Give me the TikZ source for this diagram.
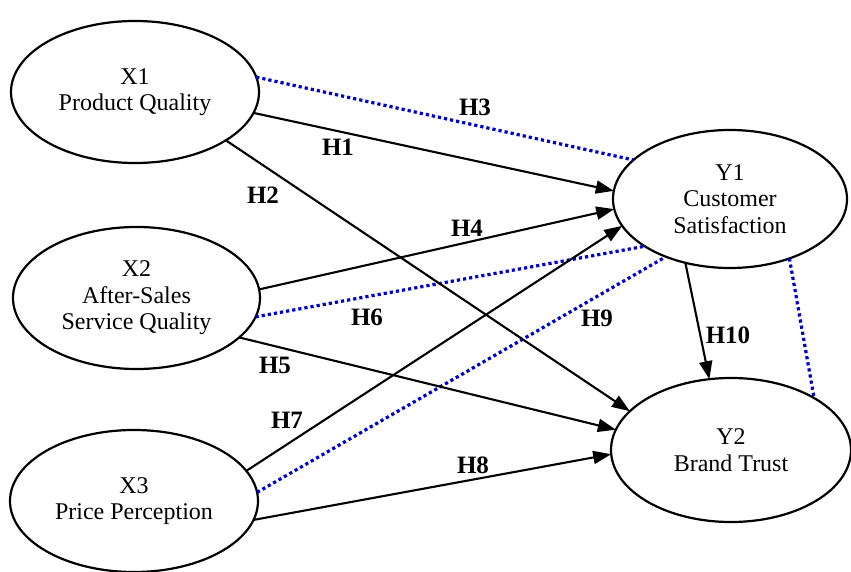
\documentclass[tikz,border=0pt]{standalone}
\usepackage{fontspec}
\setmainfont{Liberation Serif}
\usetikzlibrary{arrows.meta,shapes.geometric}
\definecolor{dotblue}{RGB}{0,0,204}
\begin{document}
\begin{tikzpicture}[x=1pt,y=-1pt,
  lat/.style={ellipse,draw,line width=2.2pt,inner sep=0pt,outer sep=0pt,align=center,font=\fontsize{24}{26.5}\selectfont},
  hyp/.style={line width=2.1pt,-{Triangle[length=18pt,width=13pt]}},
  cov/.style={dotblue,line width=3.2pt,dash pattern=on 3.2pt off 3pt},
  hl/.style={font=\fontsize{25}{25}\selectfont\bfseries,inner sep=0pt}]
\useasboundingbox (0,0) rectangle (851,572);
\node[lat,minimum width=248pt,minimum height=142pt] (X1) at (135,92) {X1\\Product Quality};
\node[lat,minimum width=247pt,minimum height=142pt] (X2) at (136.5,298) {X2\\After-Sales\\Service Quality};
\node[lat,minimum width=248pt,minimum height=142pt] (X3) at (134,501) {X3\\Price Perception};
\node[lat,minimum width=234pt,minimum height=138pt] (Y1) at (730,199) {Y1\\Customer\\Satisfaction};
\node[lat,minimum width=240pt,minimum height=144pt] (Y2) at (731,450) {Y2\\Brand Trust};
% dotted (blue) links
\draw[cov] (X1.7) -- (Y1.158);
\draw[cov] (X2.-9) -- (Y1.209);
\draw[cov] (X3.4) -- (Y1.222);
\draw[cov] (Y1.-45) -- (Y2.32);
% arrows
\draw[hyp] (X1.-10) -- (Y1.176);
\draw[hyp] (X1.-28) -- (Y2.159);
\draw[hyp] (X2.4) -- (Y1.185);
\draw[hyp] (X2.-21) -- (Y2.170);
\draw[hyp] (X3.15) -- (Y1.194);
\draw[hyp] (X3.-9) -- (Y2.182);
\draw[hyp] (Y1.235) -- (Y2.107);
% labels
\node[hl] (h1) at (338,147) {H1};
\node[hl] (h2) at (263,195) {H2};
\node[hl] (h3) at (475,107) {H3};
\node[hl] (h4) at (467,228) {H4};
\node[hl] (h5) at (275,365) {H5};
\node[hl] (h6) at (367,317) {H6};
\node[hl] (h7) at (287,420) {H7};
\node[hl] (h8) at (473,465) {H8};
\node[hl] (h9) at (597,318) {H9};
\node[hl] (h10) at (728,335) {H10};
\end{tikzpicture}
\end{document}
